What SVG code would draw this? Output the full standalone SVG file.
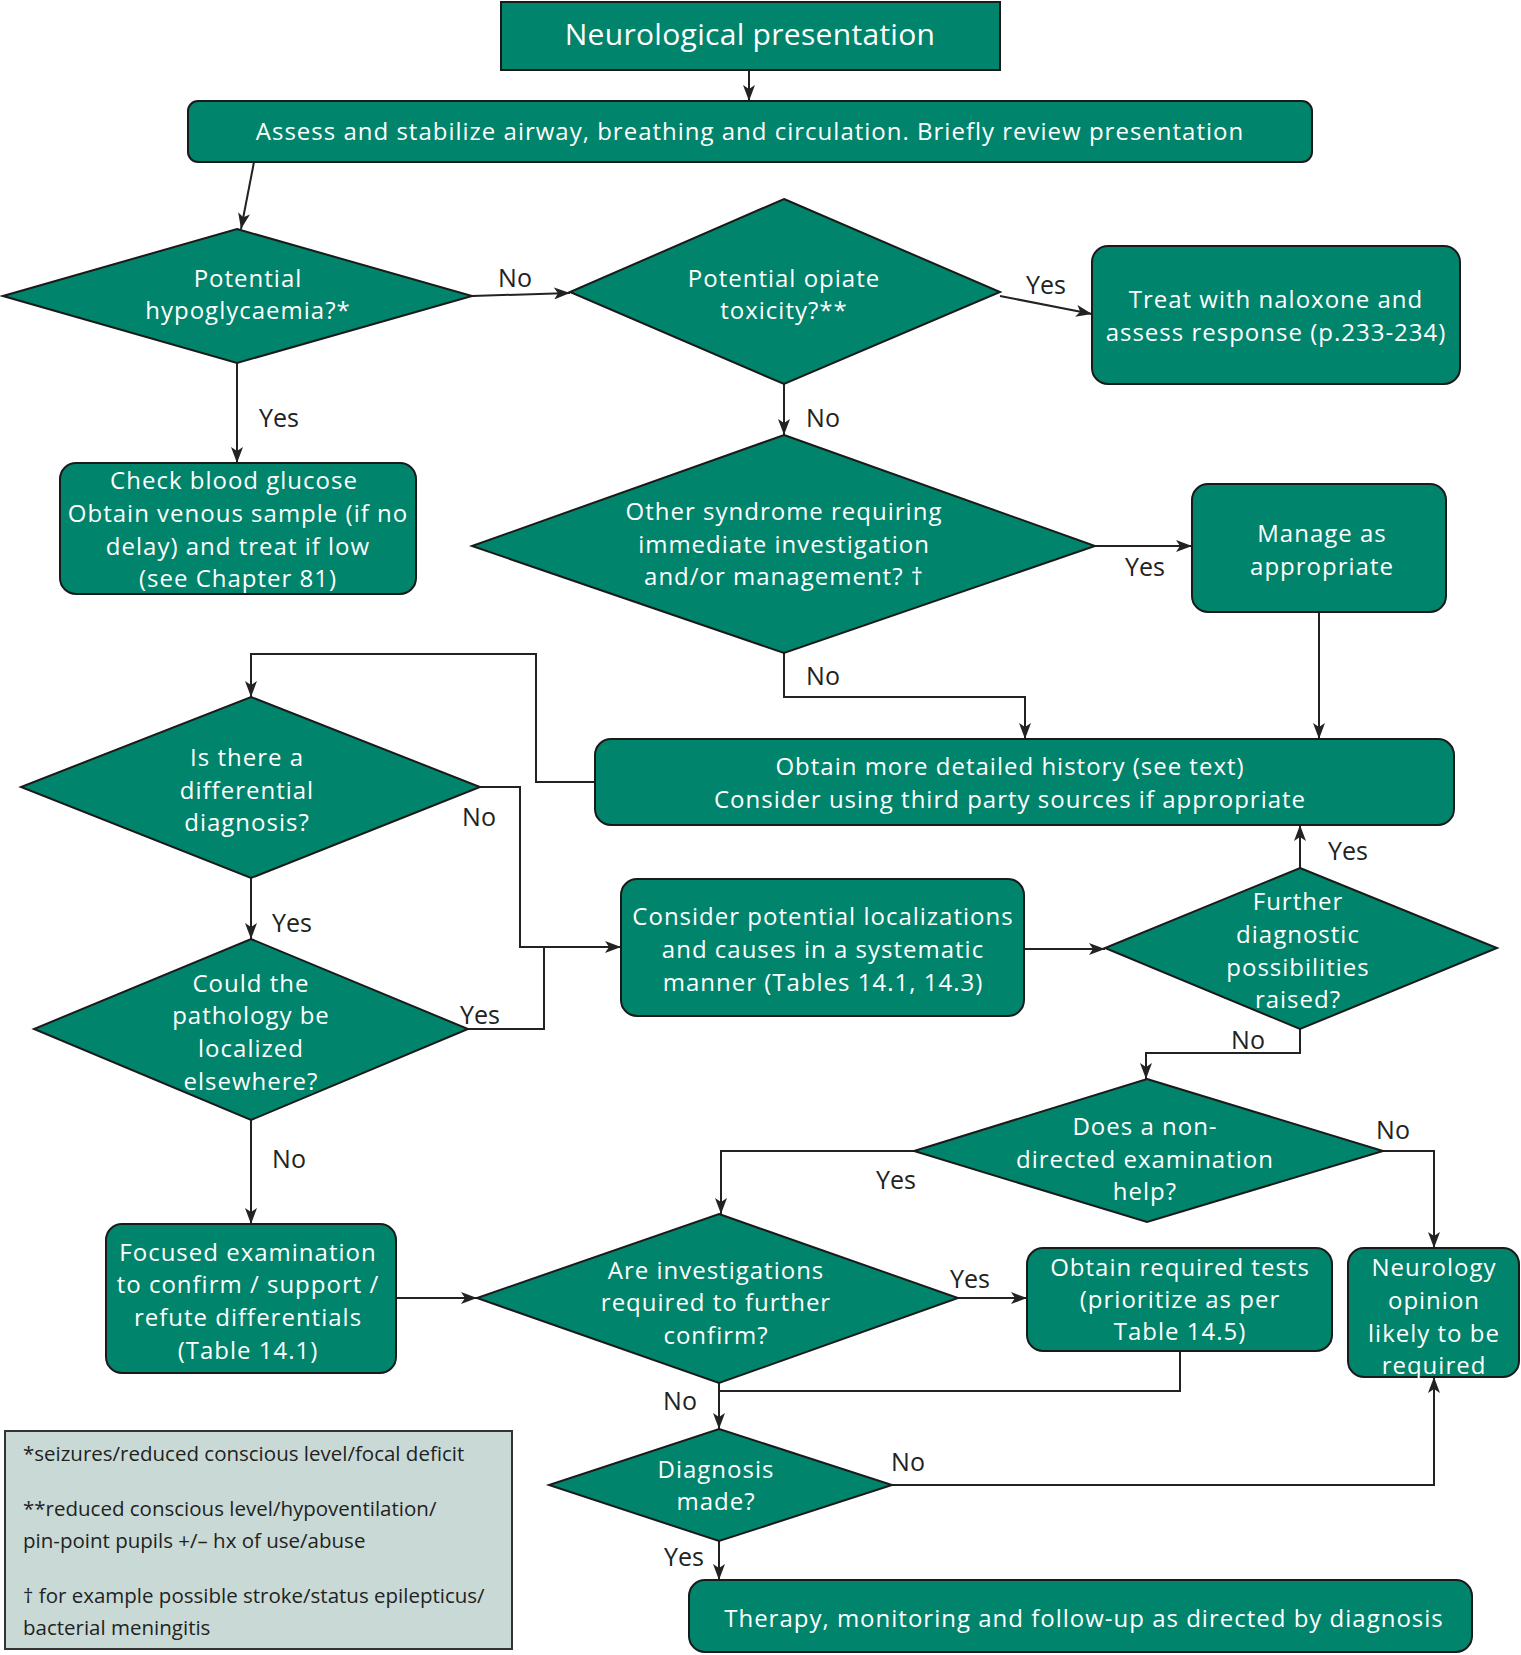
<svg xmlns="http://www.w3.org/2000/svg" width="1521" height="1655" viewBox="0 0 1521 1655">
<defs>
<style>
.box{fill:#00846c;stroke:#1a1a1a;stroke-width:2}
.note{fill:#c9dad6;stroke:#333;stroke-width:2}
.t{font-family:"Open Sans","Noto Sans",sans-serif;font-size:24px;letter-spacing:1px;fill:#fff;text-anchor:middle;dominant-baseline:central}
.lbl{font-family:"Open Sans","Noto Sans",sans-serif;font-size:25px;fill:#222;text-anchor:middle;dominant-baseline:central}
.nt{font-family:"Open Sans","Noto Sans",sans-serif;font-size:20.5px;fill:#222;dominant-baseline:central}
.c{fill:none;stroke:#222;stroke-width:2}
.a{marker-end:url(#arr)}
</style>
<marker id="arr" markerUnits="userSpaceOnUse" markerWidth="16" markerHeight="12" viewBox="0 0 16 12" refX="16" refY="6" orient="auto">
<path d="M0,0 L16,6 L0,12 L4,6 z" fill="#222"/>
</marker>
</defs>
<rect width="1521" height="1655" fill="#fff"/>

<g id="connectors">
<path class="c a" d="M749,70 V101"/>
<path class="c a" d="M254,162 L241,229"/>
<path class="c a" d="M472,296 L570,293"/>
<path class="c a" d="M1000,296 L1092,314"/>
<path class="c a" d="M237,363 V463"/>
<path class="c a" d="M784,384 V435"/>
<path class="c a" d="M1095,546 H1192"/>
<path class="c a" d="M1319,612 V739"/>
<path class="c a" d="M784,653 V697 H1025 V739"/>
<path class="c a" d="M595,782 H536 V654 H251 V697"/>
<path class="c a" d="M480,787 H520 V947 H621"/>
<path class="c a" d="M251,878 V939"/>
<path class="c" d="M468,1029 H544 V947"/>
<path class="c a" d="M1024,949 H1105"/>
<path class="c a" d="M1300,868 V825"/>
<path class="c a" d="M1300,1029 V1053 H1146 V1079"/>
<path class="c a" d="M914,1151 H721 V1214"/>
<path class="c a" d="M1383,1151 H1434 V1248"/>
<path class="c a" d="M251,1120 V1224"/>
<path class="c a" d="M396,1298 H477"/>
<path class="c a" d="M958,1298 H1027"/>
<path class="c" d="M1180,1351 V1391 H719"/>
<path class="c a" d="M719,1383 V1429"/>
<path class="c a" d="M892,1485 H1434 V1377"/>
<path class="c a" d="M719,1541 V1580"/>
<text class="lbl" x="515" y="277">No</text>
<text class="lbl" x="1046" y="284">Yes</text>
<text class="lbl" x="279" y="417">Yes</text>
<text class="lbl" x="823" y="417">No</text>
<text class="lbl" x="1145" y="566">Yes</text>
<text class="lbl" x="823" y="675">No</text>
<text class="lbl" x="479" y="816">No</text>
<text class="lbl" x="292" y="922">Yes</text>
<text class="lbl" x="480" y="1014">Yes</text>
<text class="lbl" x="1348" y="850">Yes</text>
<text class="lbl" x="1248" y="1039">No</text>
<text class="lbl" x="896" y="1179">Yes</text>
<text class="lbl" x="1393" y="1129">No</text>
<text class="lbl" x="289" y="1158">No</text>
<text class="lbl" x="970" y="1278">Yes</text>
<text class="lbl" x="680" y="1400">No</text>
<text class="lbl" x="908" y="1461">No</text>
<text class="lbl" x="684" y="1556">Yes</text>
</g>

<g id="n-neuro">
<rect class="box" x="501" y="2" width="499" height="68"/>
<text class="t" x="750" y="33" style="font-size:30px;letter-spacing:0.3px">Neurological presentation</text>
</g>
<g id="n-assess">
<rect class="box" x="188" y="101" width="1124" height="61" rx="10"/>
<text class="t" x="750" y="130">Assess and stabilize airway, breathing and circulation. Briefly review presentation</text>
</g>
<g id="n-hypo">
<polygon class="box" points="237,229 472,296 237,363 3,296"/>
<text class="t" x="248" y="277">Potential</text>
<text class="t" x="248" y="309">hypoglycaemia?*</text>
</g>
<g id="n-opiate">
<polygon class="box" points="784,199 1000,292 784,384 570,292"/>
<text class="t" x="784" y="277">Potential opiate</text>
<text class="t" x="784" y="309">toxicity?**</text>
</g>
<g id="n-naloxone">
<rect class="box" x="1092" y="246" width="368" height="138" rx="16"/>
<text class="t" x="1276" y="298">Treat with naloxone and</text>
<text class="t" x="1276" y="331">assess response (p.233-234)</text>
</g>
<g id="n-glucose">
<rect class="box" x="60" y="463" width="356" height="131" rx="16"/>
<text class="t" x="234" y="479">Check blood glucose</text>
<text class="t" x="238" y="512">Obtain venous sample (if no</text>
<text class="t" x="238" y="545">delay) and treat if low</text>
<text class="t" x="238" y="577">(see Chapter 81)</text>
</g>
<g id="n-other">
<polygon class="box" points="784,435 1095,546 784,653 472,546"/>
<text class="t" x="784" y="510">Other syndrome requiring</text>
<text class="t" x="784" y="543">immediate investigation</text>
<text class="t" x="784" y="575">and/or management? †</text>
</g>
<g id="n-manage">
<rect class="box" x="1192" y="484" width="254" height="128" rx="16"/>
<text class="t" x="1322" y="532">Manage as</text>
<text class="t" x="1322" y="565">appropriate</text>
</g>
<g id="n-history">
<rect class="box" x="595" y="739" width="859" height="86" rx="16"/>
<text class="t" x="1010" y="765">Obtain more detailed history (see text)</text>
<text class="t" x="1010" y="798">Consider using third party sources if appropriate</text>
</g>
<g id="n-diff">
<polygon class="box" points="251,697 480,787 251,878 21,787"/>
<text class="t" x="247" y="756">Is there a</text>
<text class="t" x="247" y="789">differential</text>
<text class="t" x="247" y="821">diagnosis?</text>
</g>
<g id="n-consider">
<rect class="box" x="621" y="879" width="403" height="137" rx="16"/>
<text class="t" x="823" y="915">Consider potential localizations</text>
<text class="t" x="823" y="948">and causes in a systematic</text>
<text class="t" x="823" y="981">manner (Tables 14.1, 14.3)</text>
</g>
<g id="n-further">
<polygon class="box" points="1300,868 1497,948 1300,1029 1105,948"/>
<text class="t" x="1298" y="900">Further</text>
<text class="t" x="1298" y="933">diagnostic</text>
<text class="t" x="1298" y="966">possibilities</text>
<text class="t" x="1298" y="998">raised?</text>
</g>
<g id="n-could">
<polygon class="box" points="251,939 468,1029 251,1120 34,1029"/>
<text class="t" x="251" y="982">Could the</text>
<text class="t" x="251" y="1014">pathology be</text>
<text class="t" x="251" y="1047">localized</text>
<text class="t" x="251" y="1080">elsewhere?</text>
</g>
<g id="n-nondirected">
<polygon class="box" points="1147,1079 1383,1151 1147,1222 914,1151"/>
<text class="t" x="1145" y="1125">Does a non-</text>
<text class="t" x="1145" y="1158">directed examination</text>
<text class="t" x="1145" y="1190">help?</text>
</g>
<g id="n-focused">
<rect class="box" x="106" y="1224" width="290" height="149" rx="16"/>
<text class="t" x="248" y="1251">Focused examination</text>
<text class="t" x="248" y="1283">to confirm / support /</text>
<text class="t" x="248" y="1316">refute differentials</text>
<text class="t" x="248" y="1349">(Table 14.1)</text>
</g>
<g id="n-invest">
<polygon class="box" points="719,1214 958,1298 719,1383 477,1298"/>
<text class="t" x="716" y="1269">Are investigations</text>
<text class="t" x="716" y="1301">required to further</text>
<text class="t" x="716" y="1334">confirm?</text>
</g>
<g id="n-tests">
<rect class="box" x="1027" y="1248" width="305" height="103" rx="16"/>
<text class="t" x="1180" y="1266">Obtain required tests</text>
<text class="t" x="1180" y="1298">(prioritize as per</text>
<text class="t" x="1180" y="1330">Table 14.5)</text>
</g>
<g id="n-neurology">
<rect class="box" x="1348" y="1248" width="171" height="129" rx="16"/>
<text class="t" x="1434" y="1266">Neurology</text>
<text class="t" x="1434" y="1299">opinion</text>
<text class="t" x="1434" y="1332">likely to be</text>
<text class="t" x="1434" y="1364">required</text>
</g>
<g id="n-diagnosis">
<polygon class="box" points="719,1429 892,1485 719,1541 549,1485"/>
<text class="t" x="716" y="1468">Diagnosis</text>
<text class="t" x="716" y="1500">made?</text>
</g>
<g id="n-therapy">
<rect class="box" x="689" y="1580" width="783" height="72" rx="16"/>
<text class="t" x="1084" y="1617">Therapy, monitoring and follow-up as directed by diagnosis</text>
</g>
<g id="n-footnote">
<rect class="note" x="5" y="1431" width="507" height="218"/>
<text class="nt" x="23" y="1453">*seizures/reduced conscious level/focal deficit</text>
<text class="nt" x="23" y="1508">**reduced conscious level/hypoventilation/</text>
<text class="nt" x="23" y="1540">pin-point pupils +/– hx of use/abuse</text>
<text class="nt" x="23" y="1595">† for example possible stroke/status epilepticus/</text>
<text class="nt" x="23" y="1627">bacterial meningitis</text>
</g>
</svg>
